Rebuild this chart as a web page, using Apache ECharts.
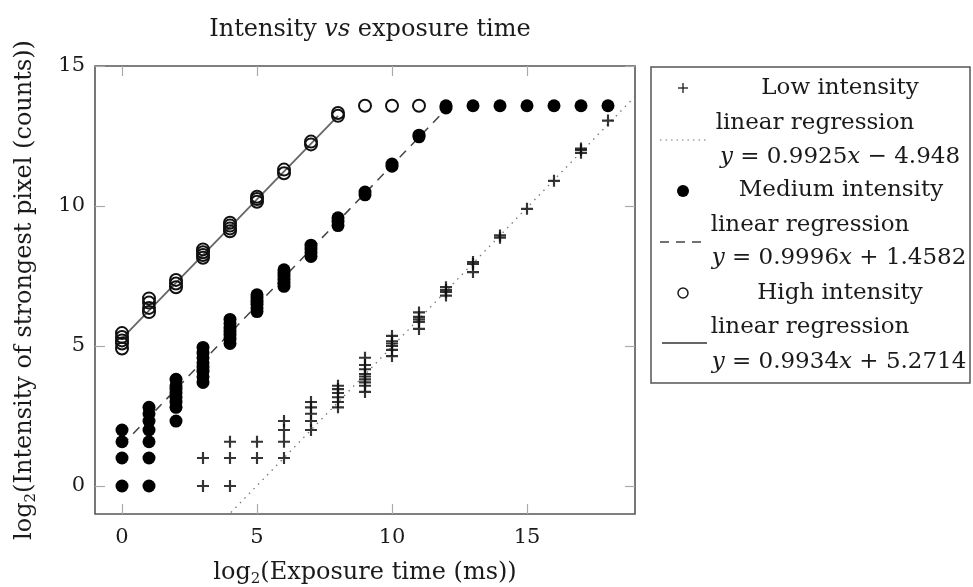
<!DOCTYPE html>
<html>
<head>
<meta charset="utf-8">
<title>Intensity vs exposure time</title>
<script src="https://cdn.jsdelivr.net/npm/echarts@6/dist/echarts.min.js"></script>
<style>
  html, body { margin: 0; padding: 0; background: #fff; }
  #chart { width: 973px; height: 587px; }
</style>
</head>
<body>
<div id="chart"></div>
<script>
// [log2 exposure time (ms), log2 intensity of strongest pixel (counts)]
const lowIntensity = [
  [3, 0], [3, 1],
  [4, 0], [4, 1], [4, 1.58],
  [5, 1], [5, 1.58],
  [6, 1], [6, 1.58], [6, 2], [6, 2.32],
  [7, 2], [7, 2.32], [7, 2.58], [7, 2.81], [7, 3],
  [8, 2.81], [8, 3], [8, 3.17], [8, 3.32], [8, 3.46], [8, 3.58],
  [9, 3.36], [9, 3.58], [9, 3.7], [9, 3.81], [9, 3.91], [9, 4.0], [9, 4.17], [9, 4.32], [9, 4.58],
  [10, 4.64], [10, 4.86], [10, 5.0], [10, 5.09], [10, 5.17], [10, 5.36],
  [11, 5.61], [11, 5.86], [11, 5.95], [11, 6.04], [11, 6.2],
  [12, 6.8], [12, 6.93], [12, 7.0], [12, 7.1],
  [13, 7.64], [13, 7.93], [13, 8.0],
  [14, 8.87], [14, 8.95],
  [15, 9.9],
  [16, 10.9],
  [17, 11.9], [17, 12.0], [17, 12.05],
  [18, 13.05]
];

const mediumIntensity = [
  [0, 0], [0, 1], [0, 1.58], [0, 2],
  [1, 0], [1, 1], [1, 1.58], [1, 2], [1, 2.32], [1, 2.58], [1, 2.81],
  [2, 2.32], [2, 2.81], [2, 3.0], [2, 3.17], [2, 3.32], [2, 3.46], [2, 3.58], [2, 3.81],
  [3, 3.7], [3, 3.9], [3, 4.1], [3, 4.25], [3, 4.4], [3, 4.58], [3, 4.75], [3, 4.95],
  [4, 5.09], [4, 5.25], [4, 5.39], [4, 5.52], [4, 5.64], [4, 5.8], [4, 5.95],
  [5, 6.23], [5, 6.36], [5, 6.49], [5, 6.6], [5, 6.73], [5, 6.83],
  [6, 7.13], [6, 7.25], [6, 7.38], [6, 7.5], [6, 7.62], [6, 7.72],
  [7, 8.2], [7, 8.34], [7, 8.46], [7, 8.6],
  [8, 9.3], [8, 9.45], [8, 9.58],
  [9, 10.4], [9, 10.5],
  [10, 11.42], [10, 11.5],
  [11, 12.47], [11, 12.53],
  [12, 13.5], [12, 13.58],
  [13, 13.58], [14, 13.58], [15, 13.58], [16, 13.58], [17, 13.58], [18, 13.58]
];

const highIntensity = [
  [0, 4.91], [0, 5.09], [0, 5.2], [0, 5.32], [0, 5.46],
  [1, 6.21], [1, 6.36], [1, 6.55], [1, 6.7],
  [2, 7.1], [2, 7.23], [2, 7.36],
  [3, 8.15], [3, 8.25], [3, 8.35], [3, 8.45],
  [4, 9.1], [4, 9.2], [4, 9.3], [4, 9.4],
  [5, 10.15], [5, 10.25], [5, 10.33],
  [6, 11.17], [6, 11.3],
  [7, 12.2], [7, 12.3],
  [8, 13.22], [8, 13.32],
  [9, 13.58], [10, 13.58], [11, 13.58]
];

// linear regressions: [slope, intercept] and the x span they are drawn over
const lowFit = [0.9925, -4.948];
const mediumFit = [0.9996, 1.4582];
const highFit = [0.9934, 5.2714];
const lowFitSpan = [-1, 19];
const mediumFitSpan = [0, 12];
const highFitSpan = [0, 8];

const seriesNames = ['Low intensity', 'Medium intensity', 'High intensity'];
const fitLabels = [
  '{i|y} = 0.9925{i|x} − 4.948',
  '{i|y} = 0.9996{i|x} + 1.4582',
  '{i|y} = 0.9934{i|x} + 5.2714'
];
const xTicks = [0, 5, 10, 15];
const yTicks = [0, 5, 10, 15];

const FONT = 'DejaVu Serif';
const INK = '#1a1a1a';
const PLUS = 'path://M4.1,0H5.9V4.1H10V5.9H5.9V10H4.1V5.9H0V4.1H4.1Z';

function fitLine(fit, span) {
  return span.map(function (x) { return [x, fit[0] * x + fit[1]]; });
}

function tickStyle(values) {
  return { show: true, inside: true, length: 10, lineStyle: { color: '#aaa', width: 1.2 }, customValues: values };
}

function mirrorAxis(base, position, values) {
  return Object.assign({}, base, {
    position: position,
    name: '',
    axisLabel: { show: false },
    axisTick: tickStyle(values)
  });
}

const xBase = {
  type: 'value', min: -1, max: 19,
  splitLine: { show: false },
  axisLine: { show: false, onZero: false },
  axisTick: tickStyle(xTicks),
  axisLabel: { customValues: xTicks, fontFamily: FONT, fontSize: 21, color: INK, margin: 13 },
  name: 'log{s|2}(Exposure time (ms))',
  nameLocation: 'middle',
  nameGap: 45,
  nameTextStyle: {
    fontFamily: FONT, fontSize: 24, color: INK,
    rich: { s: { fontFamily: FONT, fontSize: 15, color: INK, padding: [13, 0, 0, 0] } }
  }
};

const yBase = {
  type: 'value', min: -1, max: 15,
  splitLine: { show: false },
  axisLine: { show: false, onZero: false },
  axisTick: tickStyle(yTicks),
  axisLabel: { customValues: yTicks, fontFamily: FONT, fontSize: 21, color: INK, margin: 10 },
  name: 'log{s|2}(Intensity of strongest pixel (counts))',
  nameLocation: 'middle',
  nameGap: 56,
  nameTextStyle: {
    fontFamily: FONT, fontSize: 24, color: INK,
    rich: { s: { fontFamily: FONT, fontSize: 15, color: INK, padding: [13, 0, 0, 0] } }
  }
};

// legend drawn by hand to get the stacked, centred pgfplots look
const LX = 683;
const textItem = function (text, x, y) {
  return {
    type: 'text', x: x, y: y, z: 100,
    style: {
      text: text, fill: INK, font: '23px "' + FONT + '"',
      align: 'center', verticalAlign: 'middle',
      rich: { i: { fontStyle: 'italic', fontFamily: FONT, fontSize: 23, fill: INK } }
    }
  };
};

const legendGraphic = [
  { type: 'rect', z: 99, shape: { x: 651, y: 67, width: 319, height: 316 }, style: { fill: '#fff', stroke: '#555', lineWidth: 1.5 } },
  // low intensity marker + dotted sample
  { type: 'line', z: 100, shape: { x1: LX - 5, y1: 88, x2: LX + 5, y2: 88 }, style: { stroke: INK, lineWidth: 1.3 } },
  { type: 'line', z: 100, shape: { x1: LX, y1: 83, x2: LX, y2: 93 }, style: { stroke: INK, lineWidth: 1.3 } },
  { type: 'line', z: 100, shape: { x1: 660, y1: 140, x2: 708, y2: 140 }, style: { stroke: '#777', lineWidth: 1.2, lineDash: [1.5, 4] } },
  // medium intensity marker + dashed sample
  { type: 'circle', z: 100, shape: { cx: LX, cy: 191, r: 6 }, style: { fill: '#000' } },
  { type: 'line', z: 100, shape: { x1: 660, y1: 242, x2: 708, y2: 242 }, style: { stroke: '#444', lineWidth: 1.5, lineDash: [9, 7] } },
  // high intensity marker + solid sample
  { type: 'circle', z: 100, shape: { cx: LX, cy: 293, r: 5 }, style: { fill: '#fff', stroke: INK, lineWidth: 1.5 } },
  { type: 'line', z: 100, shape: { x1: 662, y1: 343, x2: 707, y2: 343 }, style: { stroke: '#666', lineWidth: 1.8 } },
  textItem(seriesNames[0], 840, 88),
  textItem('linear regression', 815, 123),
  textItem(fitLabels[0], 840, 157),
  textItem(seriesNames[1], 841, 190),
  textItem('linear regression', 810, 225),
  textItem(fitLabels[1], 839, 258),
  textItem(seriesNames[2], 840, 293),
  textItem('linear regression', 810, 327),
  textItem(fitLabels[2], 839, 362)
];

const chart = echarts.init(document.getElementById('chart'), null, { renderer: 'canvas' });

chart.setOption({
  backgroundColor: '#fff',
  animation: false,
  title: {
    text: '{n|Intensity }{i|vs}{n| exposure time}',
    left: 365, top: 13, textAlign: 'center',
    textStyle: {
      fontFamily: FONT, fontSize: 24, color: INK, fontWeight: 'normal',
      rich: {
        n: { fontFamily: FONT, fontSize: 24, color: INK },
        i: { fontFamily: FONT, fontSize: 24, color: INK, fontStyle: 'italic' }
      }
    }
  },
  grid: {
    left: 95, right: 338, top: 66, bottom: 73,
    containLabel: false, outerBoundsMode: 'none',
    show: true, borderColor: '#555', borderWidth: 1.6, backgroundColor: 'transparent'
  },
  xAxis: [xBase, mirrorAxis(xBase, 'top', xTicks)],
  yAxis: [yBase, mirrorAxis(yBase, 'right', yTicks)],
  graphic: legendGraphic,
  series: [
    {
      name: seriesNames[0] + ' linear regression', type: 'line', data: fitLine(lowFit, lowFitSpan),
      showSymbol: false, clip: true, z: 2,
      lineStyle: { color: '#777', width: 1.3, type: [1.5, 5] }
    },
    {
      name: seriesNames[1] + ' linear regression', type: 'line', data: fitLine(mediumFit, mediumFitSpan),
      showSymbol: false, clip: true, z: 2,
      lineStyle: { color: '#444', width: 1.5, type: [9, 7] }
    },
    {
      name: seriesNames[2] + ' linear regression', type: 'line', data: fitLine(highFit, highFitSpan),
      showSymbol: false, clip: true, z: 2,
      lineStyle: { color: '#666', width: 1.8 }
    },
    {
      name: seriesNames[0], type: 'scatter', data: lowIntensity, z: 3,
      symbol: PLUS, symbolSize: 12,
      itemStyle: { color: '#111', opacity: 0.85 }
    },
    {
      name: seriesNames[1], type: 'scatter', data: mediumIntensity, z: 3,
      symbol: 'circle', symbolSize: 13,
      itemStyle: { color: '#000', opacity: 1 }
    },
    {
      name: seriesNames[2], type: 'scatter', data: highIntensity, z: 3,
      symbol: 'circle', symbolSize: 12,
      itemStyle: { color: 'rgba(255,255,255,0)', borderColor: '#111', borderWidth: 2, opacity: 1 }
    }
  ]
});
</script>
</body>
</html>
